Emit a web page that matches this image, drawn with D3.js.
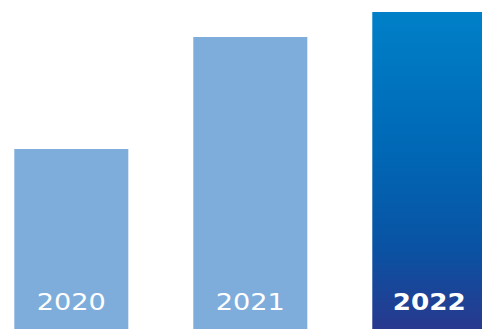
<!DOCTYPE html>
<html><head><meta charset="utf-8">
<script src="https://cdn.jsdelivr.net/npm/d3@7"></script>
<style>html,body{margin:0;padding:0;background:#fff;overflow:hidden}</style>
</head><body>
<script>
const categories = ["2020", "2021", "2022"];
const values = [180, 292, 317];
const highlight = ["2022"];

const W = 482, H = 329;
const svg = d3.select("body").append("svg").attr("width", W).attr("height", H);

const x = d3.scaleBand().domain(categories).range([14.3, 486.3]).paddingInner(0.363).paddingOuter(0);
const y = d3.scaleLinear().domain([0, 317]).range([H, 12]);

const defs = svg.append("defs");
const g = defs.append("linearGradient").attr("id", "grad").attr("x1", 0).attr("y1", 0).attr("x2", 0).attr("y2", 1);
g.append("stop").attr("offset", "0%").attr("stop-color", "#0080c8");
g.append("stop").attr("offset", "45%").attr("stop-color", "#0067b5");
g.append("stop").attr("offset", "75%").attr("stop-color", "#0a52a3");
g.append("stop").attr("offset", "100%").attr("stop-color", "#28398e");

svg.selectAll("rect.bar").data(categories).join("rect")
  .attr("class", "bar")
  .attr("x", d => x(d))
  .attr("width", x.bandwidth())
  .attr("y", (d, i) => y(values[i]))
  .attr("height", (d, i) => H - y(values[i]))
  .attr("fill", d => highlight.includes(d) ? "url(#grad)" : "#7eaddb");

svg.selectAll("text.lbl").data(categories).join("text")
  .attr("class", "lbl")
  .attr("x", d => x(d) + x.bandwidth() / 2)
  .attr("y", 310.5)
  .attr("text-anchor", "middle")
  .attr("fill", "#fff")
  .attr("font-family", "DejaVu Sans, sans-serif")
  .attr("font-size", 23)
  .attr("font-weight", d => highlight.includes(d) ? "bold" : "normal")
  .attr("transform", d => {
    const cx = x(d) + x.bandwidth() / 2;
    const s = highlight.includes(d) ? 1.14 : 1.18;
    return `translate(${cx},0) scale(${s},1) translate(${-cx},0)`;
  })
  .text(d => d);
</script>
</body></html>
